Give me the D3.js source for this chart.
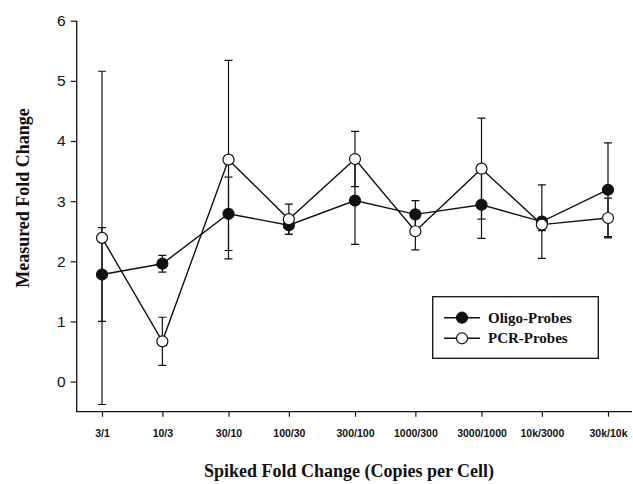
<!DOCTYPE html>
<html>
<head>
<meta charset="utf-8">
<script src="https://cdn.jsdelivr.net/npm/d3@7"></script>
<style>
  body { margin: 0; background: #fff; }
  svg { display: block; }
</style>
</head>
<body>
<div id="chart"></div>
<script>
// spiked fold change categories, denominator copies give the log spacing
var labels = ["3/1", "10/3", "30/10", "100/30", "300/100", "1000/300", "3000/1000", "10k/3000", "30k/10k"];
var copies = [1, 3, 10, 30, 100, 300, 1000, 3000, 10000];

var oligo    = [1.78, 1.96, 2.79, 2.60, 3.01, 2.78, 2.94, 2.66, 3.19];
var oligoErr = [0.78, 0.14, 0.61, 0.15, 0.73, 0.23, 0.56, 0.61, 0.78];
var pcr      = [2.39, 0.67, 3.69, 2.70, 3.70, 2.50, 3.54, 2.61, 2.72];
var pcrErr   = [2.77, 0.40, 1.65, 0.25, 0.46, 0.31, 0.84, 0.10, 0.33];

var yTicks = [0, 1, 2, 3, 4, 5, 6];

var w = 633, h = 484;

var svg = d3.select("#chart").append("svg")
  .attr("width", w)
  .attr("height", h);

var x = d3.scaleLog().domain([1, 10000]).range([102, 608]);
var y = d3.scaleLinear().domain([-0.5, 6]).range([411.7, 20.7]);

var axisLeftX = 76.7;
var axisBottomY = 411.7;

// axes
var yAxis = svg.append("g")
  .attr("transform", "translate(" + axisLeftX + ",0)")
  .call(d3.axisLeft(y).tickValues(yTicks).tickFormat(d3.format("d")).tickSize(6).tickPadding(5).tickSizeOuter(0));
yAxis.select(".domain").remove();
yAxis.selectAll("line").attr("stroke", "#111").attr("stroke-width", 1.2);
yAxis.selectAll("text")
  .attr("font-family", "Liberation Sans, Arial, sans-serif")
  .attr("font-size", 15.5)
  .attr("fill", "#111");

var xAxis = svg.append("g")
  .attr("transform", "translate(0," + axisBottomY + ")")
  .call(d3.axisBottom(x).tickValues(copies).tickFormat(function(d, i){ return labels[i]; }).tickSize(5).tickPadding(13));
xAxis.select(".domain").remove();
xAxis.selectAll("line").attr("stroke", "#111").attr("stroke-width", 1.2);
xAxis.selectAll("text")
  .attr("font-family", "Liberation Sans, Arial, sans-serif")
  .attr("font-weight", "bold")
  .attr("font-size", 10.5)
  .attr("fill", "#111");

svg.append("path")
  .attr("d", "M" + axisLeftX + "," + y(6) + "V" + axisBottomY + "H" + 632)
  .attr("fill", "none")
  .attr("stroke", "#111")
  .attr("stroke-width", 1.3);

// axis titles
svg.append("text")
  .attr("x", 349)
  .attr("y", 477)
  .attr("text-anchor", "middle")
  .attr("font-family", "Liberation Serif, Times New Roman, serif")
  .attr("font-weight", "bold")
  .attr("font-size", 18)
  .attr("fill", "#111")
  .text("Spiked Fold Change (Copies per Cell)");

svg.append("text")
  .attr("transform", "translate(" + 29 + "," + 198 + ") rotate(-90)")
  .attr("text-anchor", "middle")
  .attr("font-family", "Liberation Serif, Times New Roman, serif")
  .attr("font-weight", "bold")
  .attr("font-size", 18)
  .attr("fill", "#111")
  .text("Measured Fold Change");

function drawSeries(vals, errs){
  var g = svg.append("g");
  var idx = d3.range(vals.length);

  // error bars
  g.selectAll(".bar").data(idx).enter().append("path")
    .attr("d", function(i){
      var cx = x(copies[i]), hi = y(vals[i] + errs[i]), lo = y(vals[i] - errs[i]);
      return "M" + cx + "," + hi + "V" + lo +
             "M" + (cx - 4) + "," + hi + "H" + (cx + 4) +
             "M" + (cx - 4) + "," + lo + "H" + (cx + 4);
    })
    .attr("fill", "none")
    .attr("stroke", "#111")
    .attr("stroke-width", 1.2);

  var line = d3.line()
    .x(function(i){ return x(copies[i]); })
    .y(function(i){ return y(vals[i]); });

  g.append("path")
    .datum(idx)
    .attr("d", line)
    .attr("fill", "none")
    .attr("stroke", "#111")
    .attr("stroke-width", 1.4);

  return g;
}

function drawMarkers(vals, fill){
  svg.append("g").selectAll("circle").data(vals).enter().append("circle")
    .attr("cx", function(d, i){ return x(copies[i]); })
    .attr("cy", function(d){ return y(d); })
    .attr("r", 5.5)
    .attr("fill", fill)
    .attr("stroke", "#111")
    .attr("stroke-width", 1.2);
}

drawSeries(pcr, pcrErr);
drawSeries(oligo, oligoErr);
drawMarkers(oligo, "#111");
drawMarkers(pcr, "#fff");

// legend
var legend = svg.append("g");
legend.append("rect")
  .attr("x", 432.7)
  .attr("y", 296.7)
  .attr("width", 165.6)
  .attr("height", 61.6)
  .attr("fill", "#fff")
  .attr("stroke", "#111")
  .attr("stroke-width", 1.3);

var legendItems = [
  { name: "Oligo-Probes", fill: "#111", ly: 317.7 },
  { name: "PCR-Probes", fill: "#fff", ly: 338.3 }
];

legendItems.forEach(function(d){
  legend.append("line")
    .attr("x1", 444).attr("x2", 480)
    .attr("y1", d.ly).attr("y2", d.ly)
    .attr("stroke", "#111")
    .attr("stroke-width", 1.4);
  legend.append("circle")
    .attr("cx", 462).attr("cy", d.ly).attr("r", 5.5)
    .attr("fill", d.fill)
    .attr("stroke", "#111")
    .attr("stroke-width", 1.2);
  legend.append("text")
    .attr("x", 488)
    .attr("y", d.ly + 5)
    .attr("font-family", "Liberation Serif, Times New Roman, serif")
    .attr("font-weight", "bold")
    .attr("font-size", 15)
    .attr("fill", "#111")
    .text(d.name);
});
</script>
</body>
</html>
